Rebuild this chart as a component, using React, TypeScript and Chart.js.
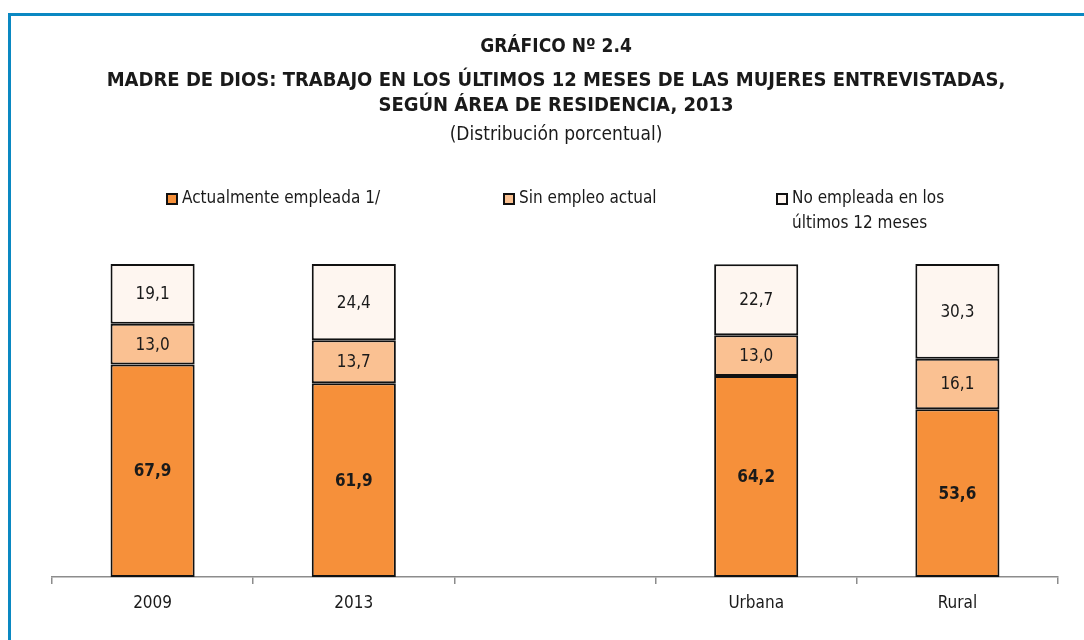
import React, { useEffect, useRef } from "react";
import { Chart, registerables } from "chart.js";

Chart.register(...registerables);

const categories = ["2009", "2013", "", "Urbana", "Rural"];
const empleada = [67.9, 61.9, null, 64.2, 53.6];
const sinEmpleo = [13.0, 13.7, null, 13.0, 16.1];
const noEmpleada = [19.1, 24.4, null, 22.7, 30.3];
const seriesNames = ["Actualmente empleada 1/", "Sin empleo actual", "No empleada en los|últimos 12 meses"];
const titleLines = [
  "GRÁFICO Nº 2.4",
  "MADRE DE DIOS: TRABAJO EN LOS ÚLTIMOS 12 MESES DE LAS MUJERES ENTREVISTADAS,",
  "SEGÚN ÁREA DE RESIDENCIA, 2013",
];
const subtitle = "(Distribución porcentual)";

const FONT = "'Liberation Sans Narrow', 'Arial Narrow', 'DejaVu Sans Condensed', sans-serif";
const COLORS = ["#F6903A", "#FAC192", "#FEF6F0"];

const overlayPlugin = {
  id: "overlay",
  afterDraw(chart: any) {
    const ctx = chart.ctx;
    ctx.save();
    // frame
    ctx.strokeStyle = "#0A88C2";
    ctx.lineWidth = 3;
    ctx.beginPath();
    ctx.moveTo(9.5, 640);
    ctx.lineTo(9.5, 14.5);
    ctx.lineTo(1084, 14.5);
    ctx.stroke();

    // titles
    ctx.fillStyle = "#1a1a1a";
    ctx.textAlign = "center";
    ctx.textBaseline = "middle";
    ctx.font = `bold 19px ${FONT}`;
    ctx.fillText(titleLines[0], 556, 47);
    ctx.font = `bold 20px ${FONT}`;
    ctx.fillText(titleLines[1], 556, 81);
    ctx.fillText(titleLines[2], 556, 106);
    ctx.font = `19px ${FONT}`;
    ctx.fillText(subtitle, 556, 135);

    // legend
    const legendX = [166, 503, 776];
    ctx.textAlign = "left";
    ctx.font = `17px ${FONT}`;
    seriesNames.forEach((name, i) => {
      const x = legendX[i];
      ctx.fillStyle = COLORS[i];
      ctx.fillRect(x, 193, 12, 12);
      ctx.strokeStyle = "#111";
      ctx.lineWidth = 2;
      ctx.strokeRect(x + 1, 194, 10, 10);
      ctx.fillStyle = "#1a1a1a";
      const parts = name.split("|");
      parts.forEach((p, j) => ctx.fillText(p, x + 16, 199 + j * 25));
    });

    // data labels
    ctx.textAlign = "center";
    chart.data.datasets.forEach((ds: any, di: number) => {
      const meta = chart.getDatasetMeta(di);
      meta.data.forEach((el: any, i: number) => {
        const v = ds.data[i];
        if (v == null) return;
        ctx.font = `${di === 0 ? "bold " : ""}17px ${FONT}`;
        ctx.fillStyle = "#1a1a1a";
        ctx.fillText(v.toFixed(1).replace(".", ","), el.x, (el.y + el.base) / 2 + 1);
      });
    });
    ctx.restore();
  },
};

export default function App() {
  const ref = useRef<HTMLCanvasElement>(null);
  useEffect(() => {
    if (!ref.current) return;
    const chart = new Chart(ref.current, {
      type: "bar",
      data: {
        labels: categories,
        datasets: [
          { label: "Actualmente empleada 1/", data: empleada, backgroundColor: COLORS[0] },
          { label: "Sin empleo actual", data: sinEmpleo, backgroundColor: COLORS[1] },
          { label: "No empleada en los últimos 12 meses", data: noEmpleada, backgroundColor: COLORS[2] },
        ].map((d) => ({
          ...d,
          borderColor: "#111111",
          borderWidth: 2,
          borderSkipped: false,
          categoryPercentage: 1,
          barPercentage: 0.418,
        })) as any,
      },
      options: {
        animation: false,
        responsive: false,
        layout: { padding: { top: 264, left: 52, right: 26, bottom: 0 } },
        plugins: { legend: { display: false }, title: { display: false }, tooltip: { enabled: false } },
        scales: {
          x: {
            stacked: true,
            grid: { display: true, drawOnChartArea: false, offset: true, tickLength: 7, color: "#8c8c8c", lineWidth: 1.5 },
            border: { display: true, color: "#8c8c8c", width: 1.5 },
            ticks: { color: "#1a1a1a", font: { family: FONT, size: 17 }, padding: 9 },
            afterFit: (s: any) => { s.height = 63; },
          },
          y: { stacked: true, min: 0, max: 100, display: false },
        },
      },
      plugins: [overlayPlugin],
    });
    return () => chart.destroy();
  }, []);
  return (
    <div style={{ position: "fixed", left: 0, top: 0, width: 1084, height: 640, background: "#fff" }}>
      <canvas ref={ref} width={1084} height={640} style={{ width: 1084, height: 640 }} />
    </div>
  );
}
